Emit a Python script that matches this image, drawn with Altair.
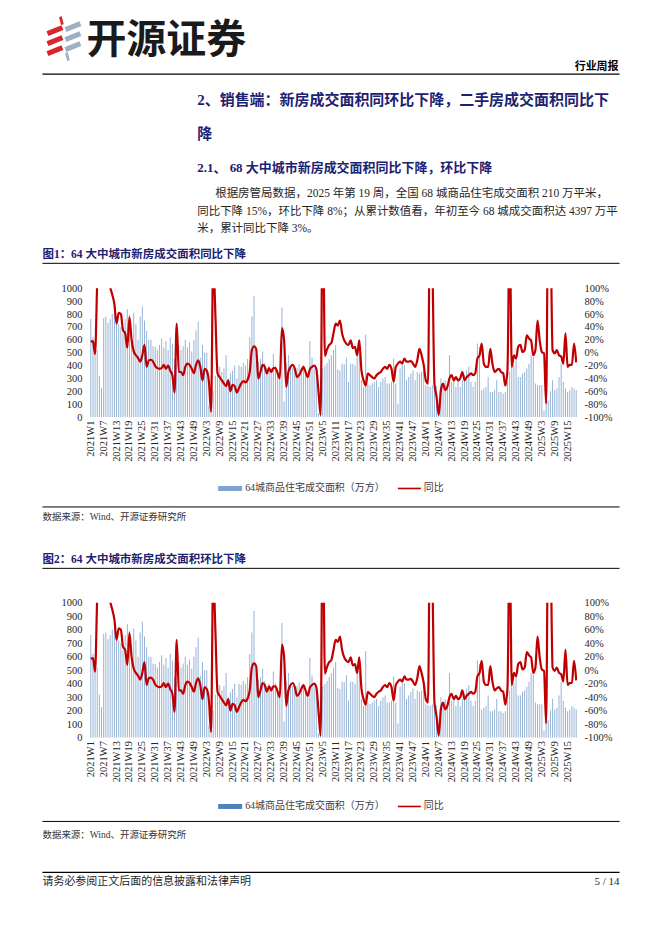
import altair as alt
import pandas as pd

# ---------------- data ----------------
years = [2021, 2022, 2023, 2024, 2025]
weeks_per_year = [52, 52, 52, 52, 19]
weeks = [f"{y}W{w}" for y, n in zip(years, weeks_per_year) for w in range(1, n + 1)]
tick_labels = weeks[::6]

area_2021 = [760, 620, 600, 520, 320, 225, 770, 780, 730, 760, 800, 810, 760, 720, 700, 650,
             760, 840, 790, 600, 810, 720, 600, 780, 860, 750, 670, 600, 600, 550, 545, 520,
             560, 610, 540, 590, 520, 620, 570, 450, 420, 560, 520, 550, 600, 540, 580, 510,
             600, 670, 740, 460]
area_2022 = [560, 500, 500, 90, 30, 200, 320, 390, 390, 350, 380, 480, 300, 340, 360, 400,
             300, 400, 390, 420, 400, 450, 620, 780, 940, 500, 430, 450, 510, 420, 380, 400,
             380, 490, 400, 350, 300, 850, 120, 420, 480, 400, 380, 360, 380, 410, 380, 400,
             350, 300, 590, 460]
area_2023 = [380, 350, 30, 20, 380, 400, 420, 450, 480, 520, 560, 370, 360, 415, 410, 462,
             273, 415, 415, 400, 480, 494, 286, 234, 641, 260, 247, 260, 273, 286, 234, 273,
             299, 312, 260, 260, 273, 455, 260, 104, 377, 403, 403, 286, 312, 338, 364, 286,
             350, 338, 350, 390]
area_2024 = [247, 240, 234, 247, 250, 240, 13, 299, 234, 286, 260, 480, 273, 299, 234, 286,
             234, 286, 325, 364, 390, 273, 234, 273, 571, 545, 208, 221, 234, 312, 195, 195,
             208, 286, 195, 195, 182, 195, 273, 350, 390, 403, 480, 312, 312, 338, 350, 377,
             415, 480, 467, 260]
area_2025 = [247, 247, 247, 52, 104, 130, 200, 286, 208, 221, 312, 415, 273, 221, 195, 208,
             234, 221, 210]

yoy_2021 = [17, 18, -2, 110, 180, 200, 190, 160, 130, 103, 90, 75, 45, 62, 60, 35,
            30, 8, 55, 20, 2, -4, -8, -14, -4, 12, -22, -12, -11, -14, -21, -24,
            -25, -24, -19, -25, -20, -28, -35, -62, 45, -30, -30, -35, -22, -17, -19, -25,
            -32, -19, -12, -22]
yoy_2022 = [-43, -25, -28, -45, -92, 150, 60, -32, -38, -43, -48, -52, -43, -60, -50, -52,
            -62, -55, -48, -44, -46, -42, -30, 4, 10, 6, -40, -30, -19, -22, -32, -24,
            -30, -24, -24, -32, -40, 38, 20, -53, -30, -22, -19, -25, -38, -35, -28, -22,
            -30, -38, -26, -22]
yoy_2023 = [-20, -25, -60, -97, 250, -5, 5, 12, 15, 30, 45, 42, 50, 30, 19, 14,
            12, 19, 7, 9, -4, 19, -27, -43, -51, -32, -35, -38, -40, -35, -32, -30,
            -25, -22, -25, -19, -25, -45, -22, -17, -14, -17, -9, -14, -14, -13, -17, -22,
            -12, 6, -4, -19]
yoy_2024 = [-43, -48, 250, 150, -48, -69, -97, -58, -48, -58, -53, -40, -35, -43, -38, -43,
            -40, -30, -43, -38, -35, -32, -35, -32, -9, -4, 14, -17, -22, -22, 6, -17,
            -30, -27, -25, -30, -32, -51, -27, 200, -22, -4, -9, 9, 12, 1, 4, 27,
            22, 19, -4, 4]
yoy_2025 = [50, 19, 1, -1, -79, 250, 200, 4, -1, 4, -4, -6, -17, 30, -22, -19,
            -19, 14, -15]

area = area_2021 + area_2022 + area_2023 + area_2024 + area_2025
yoy = yoy_2021 + yoy_2022 + yoy_2023 + yoy_2024 + yoy_2025

bar_name = "64城商品住宅成交面积（万方）"
line_name = "同比"

df = pd.DataFrame({"week": weeks, "area": area, "yoy": yoy})

# ---------------- styles ----------------
SERIF = "'Liberation Serif', 'Noto Sans CJK SC'"
CJK = "'Noto Sans CJK SC'"
NAVY = "#1c2172"
BLUE = "#4f81bd"
RED = "#c00000"
W = 488          # plot width (page x 89.5 .. 577.5)
OX = 89.5        # page x of panel origin


def px(x):
    return x - OX


def txt(s, x, y, size=11, color="#262626", weight="normal", align="left", font=SERIF):
    return alt.Chart(pd.DataFrame({"t": [s]})).mark_text(
        align=align, baseline="middle", fontSize=size, font=font,
        fontWeight=weight, color=color
    ).encode(text="t:N", x=alt.value(x), y=alt.value(y))


def seg(x1, y1, x2, y2, w=1.0, color="#000000"):
    return alt.Chart(pd.DataFrame({"a": [0]})).mark_rule(
        color=color, strokeWidth=w
    ).encode(x=alt.value(x1), x2=alt.value(x2), y=alt.value(y1), y2=alt.value(y2))


def box(x1, y1, x2, y2, color):
    return alt.Chart(pd.DataFrame({"a": [0]})).mark_rect(color=color).encode(
        x=alt.value(x1), x2=alt.value(x2), y=alt.value(y1), y2=alt.value(y2))


def legend(y0, swatch):
    return [
        box(px(218), y0 - 2.5, px(242), y0 + 2.5, swatch),
        txt(bar_name, px(245), y0, size=10, color="#404040"),
        seg(px(398), y0, px(421), y0, w=1.6, color=RED),
        txt(line_name, px(424), y0, size=10, color="#404040"),
    ]


def combo(h):
    x = alt.X("week:N", sort=weeks,
              scale=alt.Scale(paddingInner=0.55, paddingOuter=0.2),
              axis=alt.Axis(values=tick_labels, labelAngle=270, title=None, ticks=False,
                            domain=False, labelPadding=3, labelOverlap=False,
                            labelFont="Liberation Serif", labelFontSize=10.5,
                            labelColor="#262626"))
    bars = alt.Chart(df).mark_bar(color=BLUE, opacity=0.62).encode(
        x=x,
        y=alt.Y("area:Q", scale=alt.Scale(domain=[0, 1000]),
                axis=alt.Axis(values=list(range(0, 1001, 100)), title=None, ticks=False,
                              domain=False, grid=False, labelPadding=8, format="d",
                              labelFont="Liberation Serif", labelFontSize=10.5,
                              labelColor="#262626")),
        tooltip=["week", "area"],
    )
    line = alt.Chart(df).mark_line(color=RED, strokeWidth=2.2, interpolate="monotone",
                                   clip=True).encode(
        x=x,
        y=alt.Y("yoy:Q", scale=alt.Scale(domain=[-100, 100]),
                axis=alt.Axis(orient="right", values=list(range(-100, 101, 20)), title=None,
                              ticks=False, domain=False, grid=False, labelPadding=7,
                              labelExpr="datum.value + '%'",
                              labelFont="Liberation Serif", labelFontSize=10.5,
                              labelColor="#262626")),
    )
    return alt.layer(bars, line).resolve_scale(y="independent").properties(width=W, height=h)


# ---------------- top panel (page y 8 .. 288) ----------------
T0 = 8
def ty(y):
    return y - T0

top_layers = [
    box(px(8), 0, px(654), 920, "#ffffff"),
    # logo mark
    seg(px(60), ty(16), px(62), ty(24), w=2.8, color="#d9262c"),
    seg(px(47), ty(33), px(62), ty(27), w=5, color="#d9262c"),
    seg(px(47), ty(43), px(62), ty(37), w=5, color="#d9262c"),
    seg(px(47), ty(53), px(62), ty(47), w=5, color="#d9262c"),
    seg(px(65), ty(29), px(80), ty(23), w=5, color="#9db0c4"),
    seg(px(65), ty(39), px(80), ty(33), w=5, color="#9db0c4"),
    seg(px(65), ty(49), px(80), ty(43), w=5, color="#9db0c4"),
    seg(px(66), ty(52), px(68), ty(60), w=2.8, color="#9db0c4"),
    txt("开源证券", px(86), ty(40), size=40, color="#1a1a1a", weight="bold", font=CJK),
    txt("行业周报", px(619), ty(66), size=11, color="#000000", weight="bold",
        align="right", font=CJK),
    seg(px(42), ty(73.5), px(620), ty(73.5), w=1.2),
    txt("2、销售端：新房成交面积同环比下降，二手房成交面积同比下", px(197), ty(99),
        size=15, color=NAVY, weight="bold"),
    txt("降", px(197), ty(133), size=15, color=NAVY, weight="bold"),
    txt("2.1、 68 大中城市新房成交面积同比下降，环比下降", px(197), ty(168),
        size=13, color=NAVY, weight="bold"),
    txt("根据房管局数据，2025 年第 19 周，全国 68 城商品住宅成交面积 210 万平米，",
        px(215), ty(194), size=11.5),
    txt("同比下降 15%，环比下降 8%；从累计数值看，年初至今 68 城成交面积达 4397 万平",
        px(197), ty(211.5), size=11.5),
    txt("米，累计同比下降 3%。", px(197), ty(228.5), size=11.5),
    txt("图1：64 大中城市新房成交面积同比下降", px(42), ty(255), size=11.5,
        color=NAVY, weight="bold"),
    seg(px(42), ty(263), px(620), ty(263), w=1),
]
top = alt.layer(*top_layers).properties(width=W, height=280)

chart1 = combo(129)

# ---------------- middle panel (page y 417 .. 603) ----------------
M0 = 417
mid_layers = legend(488.5 - M0, "#7fa3d1") + [
    seg(px(42), 507 - M0, px(620), 507 - M0, w=1),
    txt("数据来源：Wind、开源证券研究所", px(42), 517 - M0, size=9.5, color="#333333"),
    txt("图2：64 大中城市新房成交面积环比下降", px(42), 560 - M0, size=11.5,
        color=NAVY, weight="bold"),
    seg(px(42), 568.5 - M0, px(620), 568.5 - M0, w=1),
]
mid = alt.layer(*mid_layers).properties(width=W, height=186)

chart2 = combo(135)

# ---------------- bottom panel (page y 738 .. 928) ----------------
B0 = 738
bot_layers = legend(807 - B0, BLUE) + [
    seg(px(42), 822 - B0, px(620), 822 - B0, w=1),
    txt("数据来源：Wind、开源证券研究所", px(42), 836 - B0, size=9.5, color="#333333"),
    seg(px(42), 873 - B0, px(620), 873 - B0, w=1.3),
    txt("请务必参阅正文后面的信息披露和法律声明", px(42), 882.5 - B0, size=11,
        color="#262626"),
    txt("5 / 14", px(620), 882.5 - B0, size=11, color="#262626", align="right"),
]
bot = alt.layer(*bot_layers).properties(width=W, height=190)

chart = alt.vconcat(top, chart1, mid, chart2, bot, spacing=0, bounds="flush").properties(
    padding=0
).configure_view(strokeWidth=0)

chart.save("out.html", embed_options={"renderer": "svg", "actions": False})
